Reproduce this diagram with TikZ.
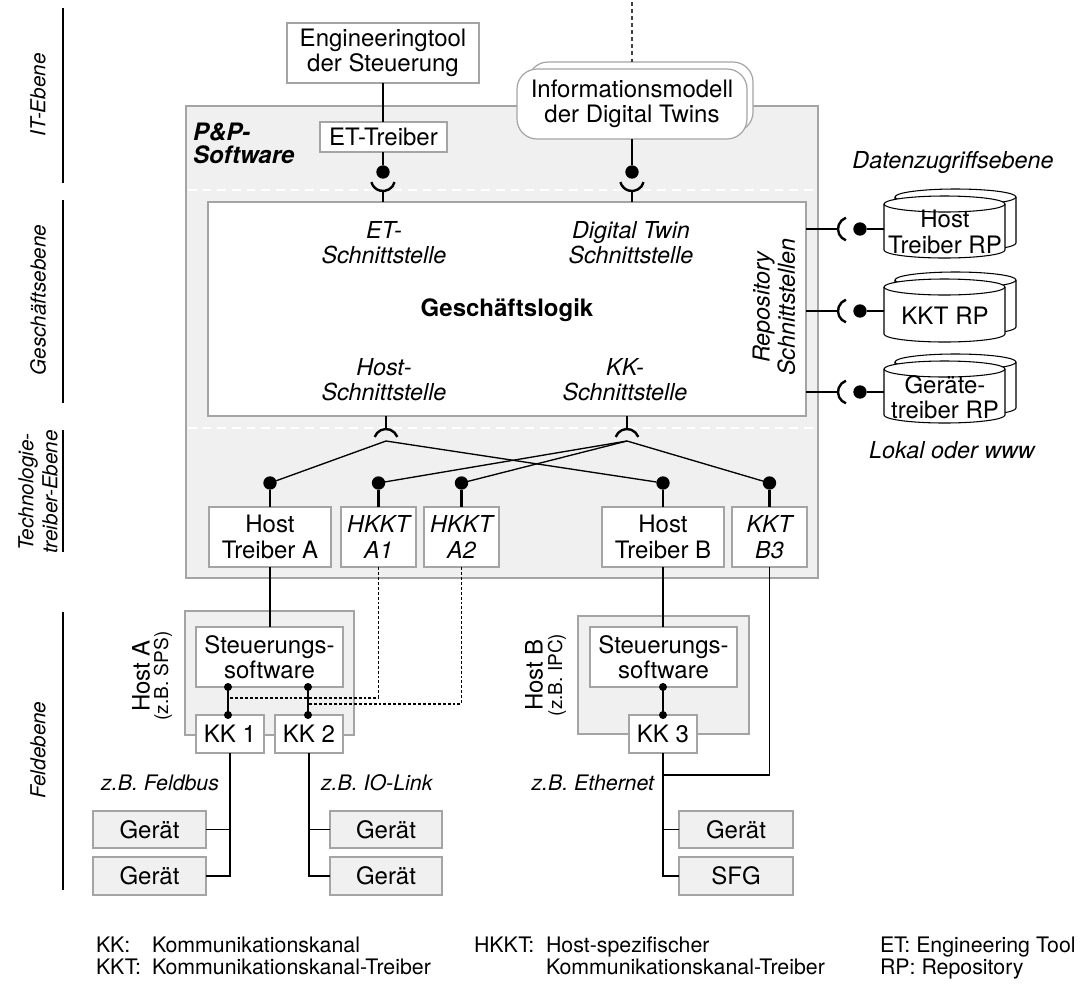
\documentclass[tikz,border=0pt]{standalone}
\usepackage{fontspec}
\setmainfont{TeX Gyre Heros}
\usetikzlibrary{calc}
\definecolor{panelgray}{HTML}{F0F0F0}
\definecolor{framegray}{HTML}{A4A4A4}

% stacked repository drum: left, top, right, bottom (pixel units)
\newcommand\drumshape[4]{%
  \pgfmathsetmacro\drumrx{(#3-#1)/2}%
  \draw[drum] (#1,#2+8) -- (#1,#4-8)
    arc[start angle=180,end angle=0,x radius=\drumrx,y radius=8]
    -- (#3,#2+8)
    arc[start angle=0,end angle=-180,x radius=\drumrx,y radius=8] -- cycle;
  \draw[drumline] (#1,#2+8) arc[start angle=180,end angle=0,x radius=\drumrx,y radius=8];
}

\begin{document}
\begin{tikzpicture}[x=0.75pt,y=-0.75pt,
  every node/.style={font=\fontsize{18}{19}\selectfont, align=center, inner sep=0pt, outer sep=0pt},
  area/.style args={#1/#2/#3/#4}{at={({(#1+#3)/2},{(#2+#4)/2})},
    minimum width={(#3-#1)*0.75pt}, minimum height={(#4-#2)*0.75pt}},
  iface/.style={font=\fontsize{17.5}{19}\selectfont\itshape},
  note/.style={font=\fontsize{16}{19}\selectfont\itshape},
  tier/.style={font=\fontsize{17.5}{19}\selectfont\itshape},
  small/.style={font=\fontsize{14.3}{17}\selectfont},
  layer/.style={font=\fontsize{15.5}{18}\selectfont\itshape, rotate=90},
  legend/.style={font=\fontsize{16}{18}\selectfont, anchor=base west},
  wbox/.style={draw=framegray, fill=white, line width=0.9pt},
  gbox/.style={draw=framegray, fill=panelgray, line width=0.9pt},
  drum/.style={draw=black, fill=white, line width=0.8pt},
  drumline/.style={draw=black, line width=0.8pt},
  wire/.style={line width=1pt},
  stem/.style={line width=2pt},
  socket/.style={line width=1.8pt},
  dashline/.style={line width=0.8pt, dash pattern=on 2.2pt off 1.5pt},
  sep/.style={white, line width=1.6pt, dash pattern=on 6.5pt off 4.5pt},
  ball/.style={circle, fill=black, minimum size=10pt},
  smallball/.style={circle, fill=black, minimum size=6pt},
]
\useasboundingbox (0,0) rectangle (1090,983);

% ---------- layer labels ----------
\foreach \ya/\yb in {8/183, 200/403, 430/552, 612/890}
  \draw[wire] (63,\ya) -- (63,\yb);
\node[layer] (lyIT) at (38,95) {IT-Ebene};
\node[layer] (lyGE) at (38,300) {Geschäftsebene};
\node[layer] (lyTT) at (38,492) {Technologie-\\treiber-Ebene};
\node[layer] (lyFE) at (38,750) {Feldebene};

% ---------- P&P software frame ----------
\node[gbox, area=186/106/818/578] (pp) {};
\node[font=\fontsize{18}{17.3}\selectfont\bfseries\itshape, align=left, anchor=north west] (pplabel) at (193,123) {P\&P-\\Software};

% ---------- IT layer ----------
\node[wbox, area=287/23/479/83] (eng) {Engineeringtool\\der Steuerung};
\node[wbox, rounded corners=15pt, area=528/62/753/132] (infoback) {};
\node[wbox, rounded corners=15pt, area=517/69/747/139] (info) {Informationsmodell\\der Digital Twins};
\coordinate (infotop) at (632,2);
\draw[line width=0.9pt, dash pattern=on 3pt off 2.3pt, black!75] (infotop) -- (infotop |- infoback.north);

% white separators
\draw[sep] (188,190) -- (816,190);
\draw[sep] (188,428) -- (816,428);

% ---------- business logic ----------
\node[wbox, area=208/202/806/416] (gl) {};
\node[font=\fontsize{18}{19}\selectfont\bfseries] (glname) at (507,310) {Geschäftslogik};
\node[iface] (ifET) at (384,243) {ET-\\Schnittstelle};
\node[iface] (ifDT) at (631,243) {Digital Twin\\Schnittstelle};
\node[iface] (ifHost) at (384,380) {Host-\\Schnittstelle};
\node[iface] (ifKK) at (625,380) {KK-\\Schnittstelle};
\node[iface, rotate=90] (ifRepo) at (774,307) {Repository\\Schnittstellen};

% ET driver with ball and socket
\node[wbox, area=320/122/447/152] (etd) {ET-Treiber};
\draw[wire] (eng.south) -- (eng.south |- etd.north);
\node[ball] (etball) at (383,172) {};
\draw[stem] (etball |- etd.south) -- (etball);
\draw[socket] (383,179) ++(15:12) arc[start angle=15,end angle=165,radius=12];
\coordinate (etsock) at (383,191);
\draw[wire] (etsock) -- (etsock |- gl.north);

% information model ball and socket
\node[ball] (dtball) at (632,172) {};
\draw[stem] (dtball |- info.south) -- (dtball);
\draw[socket] (632,179) ++(15:12) arc[start angle=15,end angle=165,radius=12];
\coordinate (dtsock) at (632,191);
\draw[wire] (dtsock) -- (dtsock |- gl.north);

% ---------- repositories ----------
\drumshape{895}{189}{1016}{251}
\drumshape{884}{196}{1005}{258}
\drumshape{895}{272}{1016}{335}
\drumshape{884}{279}{1005}{342}
\drumshape{895}{354}{1016}{416}
\drumshape{884}{361}{1005}{423}
\node (hostrp) at (945,232) {Host\\Treiber RP};
\node (kktrp) at (945,316) {KKT RP};
\node (devrp) at (945,397) {Geräte-\\treiber RP};
\coordinate (hostrpin) at (884,229);
\coordinate (kktrpin) at (884,311);
\coordinate (devrpin) at (884,392);

\coordinate (rs1) at (838,229);
\coordinate (rs2) at (838,311);
\coordinate (rs3) at (838,392);
\draw[wire] (rs1 -| gl.east) -- (rs1);
\draw[wire] (rs2 -| gl.east) -- (rs2);
\draw[wire] (rs3 -| gl.east) -- (rs3);
\draw[socket] (850,229) ++(110:12) arc[start angle=110,end angle=250,radius=12];
\draw[socket] (850,311) ++(110:12) arc[start angle=110,end angle=250,radius=12];
\draw[socket] (850,392) ++(110:12) arc[start angle=110,end angle=250,radius=12];
\node[ball] (rb1) at (860,229) {};
\node[ball] (rb2) at (860,311) {};
\node[ball] (rb3) at (860,392) {};
\draw[stem] (rb1) -- (hostrpin);
\draw[stem] (rb2) -- (kktrpin);
\draw[stem] (rb3) -- (devrpin);

\node[tier] (dza) at (953,162) {Datenzugriffsebene};
\node[tier] (www) at (952,450) {Lokal oder www};

% ---------- technology drivers ----------
\node[wbox, area=209/507/331/567] (htA) {Host\\Treiber A};
\node[wbox, iface, area=341/507/416/567] (hA1) {HKKT\\A1};
\node[wbox, iface, area=424/507/499/567] (hA2) {HKKT\\A2};
\node[wbox, area=602/507/724/567] (htB) {Host\\Treiber B};
\node[wbox, iface, area=732/507/807/567] (kB3) {KKT\\B3};

\coordinate (ballrow) at (0,483);
\node[ball] (bA) at (htA.north |- ballrow) {};
\node[ball] (bA1) at (hA1.north |- ballrow) {};
\node[ball] (bA2) at (hA2.north |- ballrow) {};
\node[ball] (bB) at (htB.north |- ballrow) {};
\node[ball] (bB3) at (kB3.north |- ballrow) {};
\foreach \b/\n in {bA/htA, bA1/hA1, bA2/hA2, bB/htB, bB3/kB3}
  \draw[stem] (\b) -- (\n.north);

\coordinate (hostsock) at (386,441);
\coordinate (kksock) at (627,441);
\draw[wire] (hostsock |- gl.south) -- (386,429);
\draw[wire] (kksock |- gl.south) -- (627,429);
\draw[socket] (hostsock) ++(200:12) arc[start angle=200,end angle=340,radius=12];
\draw[socket] (kksock) ++(200:12) arc[start angle=200,end angle=340,radius=12];
\draw[wire] (hostsock) -- (bA);
\draw[wire] (hostsock) -- (bB);
\draw[wire] (kksock) -- (bA1);
\draw[wire] (kksock) -- (bA2);
\draw[wire] (kksock) -- (bB3);

% ---------- field level: host A ----------
\node[gbox, area=185/611/354/735] (hostA) {};
\node[wbox, area=196/627/343/687] (swA) {Steuerungs-\\software};
\node[wbox, area=196/715/264/753] (kk1) {KK 1};
\node[wbox, area=275/715/343/753] (kk2) {KK 2};
\draw[wire] (htA.south) -- (htA.south |- swA.north);
\node[rotate=90] (hostAname) at (141,676) {Host A};
\node[small, rotate=90] (hostAtype) at (163,676) {(z.B. SPS)};

\coordinate (dA1) at (228,698);
\coordinate (dA2) at (308,704);
\draw[dashline] (hA1.south) |- (dA1);
\draw[dashline] (hA2.south) |- (dA2);

\node[smallball] (kk1top) at (228,687) {};
\node[smallball] (kk1bot) at (228,715) {};
\node[smallball] (kk2top) at (308,687) {};
\node[smallball] (kk2bot) at (308,715) {};
\draw[stem] (kk1top.center) -- (kk1bot.center);
\draw[stem] (kk2top.center) -- (kk2bot.center);

\node[gbox, area=93/811/206/848] (devA1) {Gerät};
\node[gbox, area=93/857/206/895] (devA2) {Gerät};
\draw[wire] (kk1.south) |- (devA2.east);
\draw[wire] (devA1.east) -- (devA1.east -| kk1.south);
\node[note, anchor=east] (busA) at (219,783) {z.B. Feldbus};

\node[gbox, area=330/811/442/848] (devB1) {Gerät};
\node[gbox, area=330/857/442/895] (devB2) {Gerät};
\draw[wire] (kk2.south) |- (devB2.west);
\draw[wire] (devB1.west) -- (devB1.west -| kk2.south);
\node[note, anchor=west] (busB) at (321,783) {z.B. IO-Link};

% ---------- field level: host B ----------
\node[gbox, area=578/616/749/734] (hostB) {};
\node[wbox, area=590/627/737/687] (swB) {Steuerungs-\\software};
\node[wbox, area=629/715/697/753] (kk3) {KK 3};
\draw[wire] (htB.south) -- (htB.south |- swB.north);
\node[rotate=90] (hostBname) at (534,675) {Host B};
\node[small, rotate=90] (hostBtype) at (557,675) {(z.B. IPC)};
\node[smallball] (kk3top) at (663,687) {};
\node[smallball] (kk3bot) at (663,715) {};
\draw[stem] (kk3top.center) -- (kk3bot.center);

\node[gbox, area=679/811/793/848] (devC1) {Gerät};
\node[gbox, area=679/857/793/895] (devC2) {SFG};
\draw[wire] (kk3.south) |- (devC2.west);
\draw[wire] (devC1.west) -- (devC1.west -| kk3.south);
\coordinate (ethtap) at (663,775);
\draw[wire] (kB3.south) |- (ethtap);
\node[note, anchor=east] (busC) at (654,783) {z.B. Ethernet};

% ---------- legend ----------
\node[legend] (lgKK) at (96,952) {KK:};
\node[legend] (lgKKtext) at (152,952) {Kommunikationskanal};
\node[legend] (lgKKT) at (96,974) {KKT:};
\node[legend] (lgKKTtext) at (152,974) {Kommunikationskanal-Treiber};
\node[legend] (lgHKKT) at (474,952) {HKKT:};
\node[legend] (lgHKKTtext) at (546,952) {Host-spezifischer};
\node[legend] (lgHKKTtext2) at (546,974) {Kommunikationskanal-Treiber};
\node[legend] (lgET) at (880,952) {ET: Engineering Tool};
\node[legend] (lgRP) at (880,974) {RP: Repository};
\end{tikzpicture}
\end{document}
